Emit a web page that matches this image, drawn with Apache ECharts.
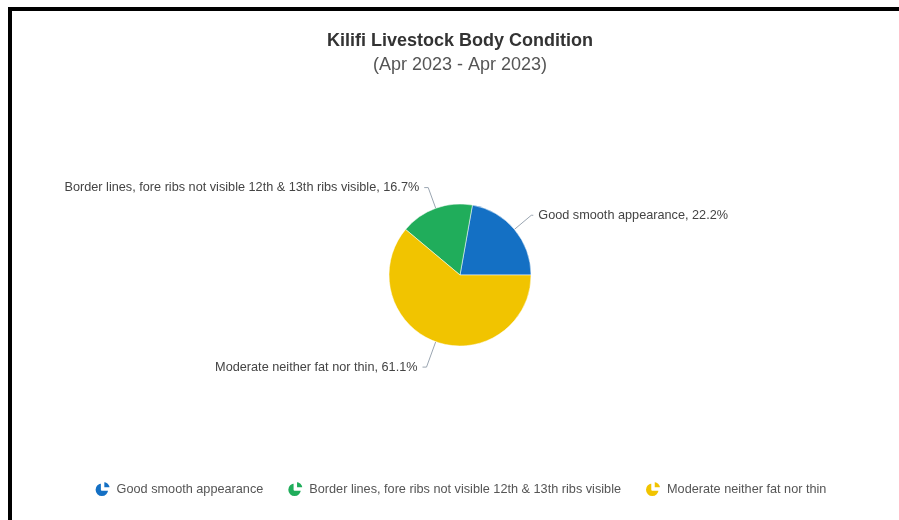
<!DOCTYPE html>
<html>
<head>
<meta charset="utf-8">
<title>Kilifi Livestock Body Condition</title>
<script src="https://cdn.jsdelivr.net/npm/echarts@6/dist/echarts.min.js"></script>
<style>
  html, body { margin: 0; padding: 0; background: #fff; overflow: hidden; }
  .frame {
    position: absolute; left: 8px; top: 7px;
    width: 900px; height: 530px;
    border: 4px solid #000; background: #fff;
  }
  #chart { position: absolute; left: 0; top: 0; width: 896px; height: 520px; }
</style>
</head>
<body>
<div class="frame"><div id="chart"></div></div>
<script>
// data
const categories = [
  'Good smooth appearance',
  'Border lines, fore ribs not visible 12th & 13th ribs visible',
  'Moderate neither fat nor thin'
]
const shares = [22.2, 16.7, 61.1]
const colors = ['#1470c4', '#20ad5b', '#f1c400']
const titleText = 'Kilifi Livestock Body Condition'
const subTitleText = '(Apr 2023 - Apr 2023)'

const font = "'Liberation Sans', Arial, Helvetica, sans-serif"
// little pie with a wedge pulled out, used as legend icon
const pieIcon = 'path://M11,13L11,3A10,10,0,1,0,21,13Z M13,11L13,1A10,10,0,0,1,23,11Z'
// label line tweaks per slice (length, length2)
const lineLens = [[22, 2], [22, 4], [27, 4]]

const chart = echarts.init(document.getElementById('chart'))

chart.setOption({
  animation: false,
  color: colors,
  title: {
    text: titleText,
    subtext: subTitleText,
    left: 'center',
    top: 16,
    itemGap: 6,
    textStyle: { fontFamily: font, fontSize: 18, fontWeight: 'bold', color: '#333' },
    subtextStyle: { fontFamily: font, fontSize: 18, color: '#555' }
  },
  legend: {
    top: 464,
    left: 'center',
    icon: pieIcon,
    itemWidth: 18,
    itemHeight: 16,
    itemGap: 23,
    textStyle: { fontFamily: font, fontSize: 12.7, color: '#555' },
    data: categories
  },
  series: [{
    type: 'pie',
    center: ['50%', 264],
    radius: 71,
    startAngle: 0,
    clockwise: false,
    label: {
      fontFamily: font,
      fontSize: 12.7,
      color: '#444',
      formatter: p => p.name + ', ' + p.value.toFixed(1) + '%'
    },
    labelLine: {
      lineStyle: { color: '#9aa5b1', width: 1 }
    },
    itemStyle: { borderColor: '#fff', borderWidth: 0.5 },
    emphasis: { disabled: true },
    data: categories.map((name, i) => ({
      name,
      value: shares[i],
      labelLine: { length: lineLens[i][0], length2: lineLens[i][1] }
    }))
  }]
})
</script>
</body>
</html>
